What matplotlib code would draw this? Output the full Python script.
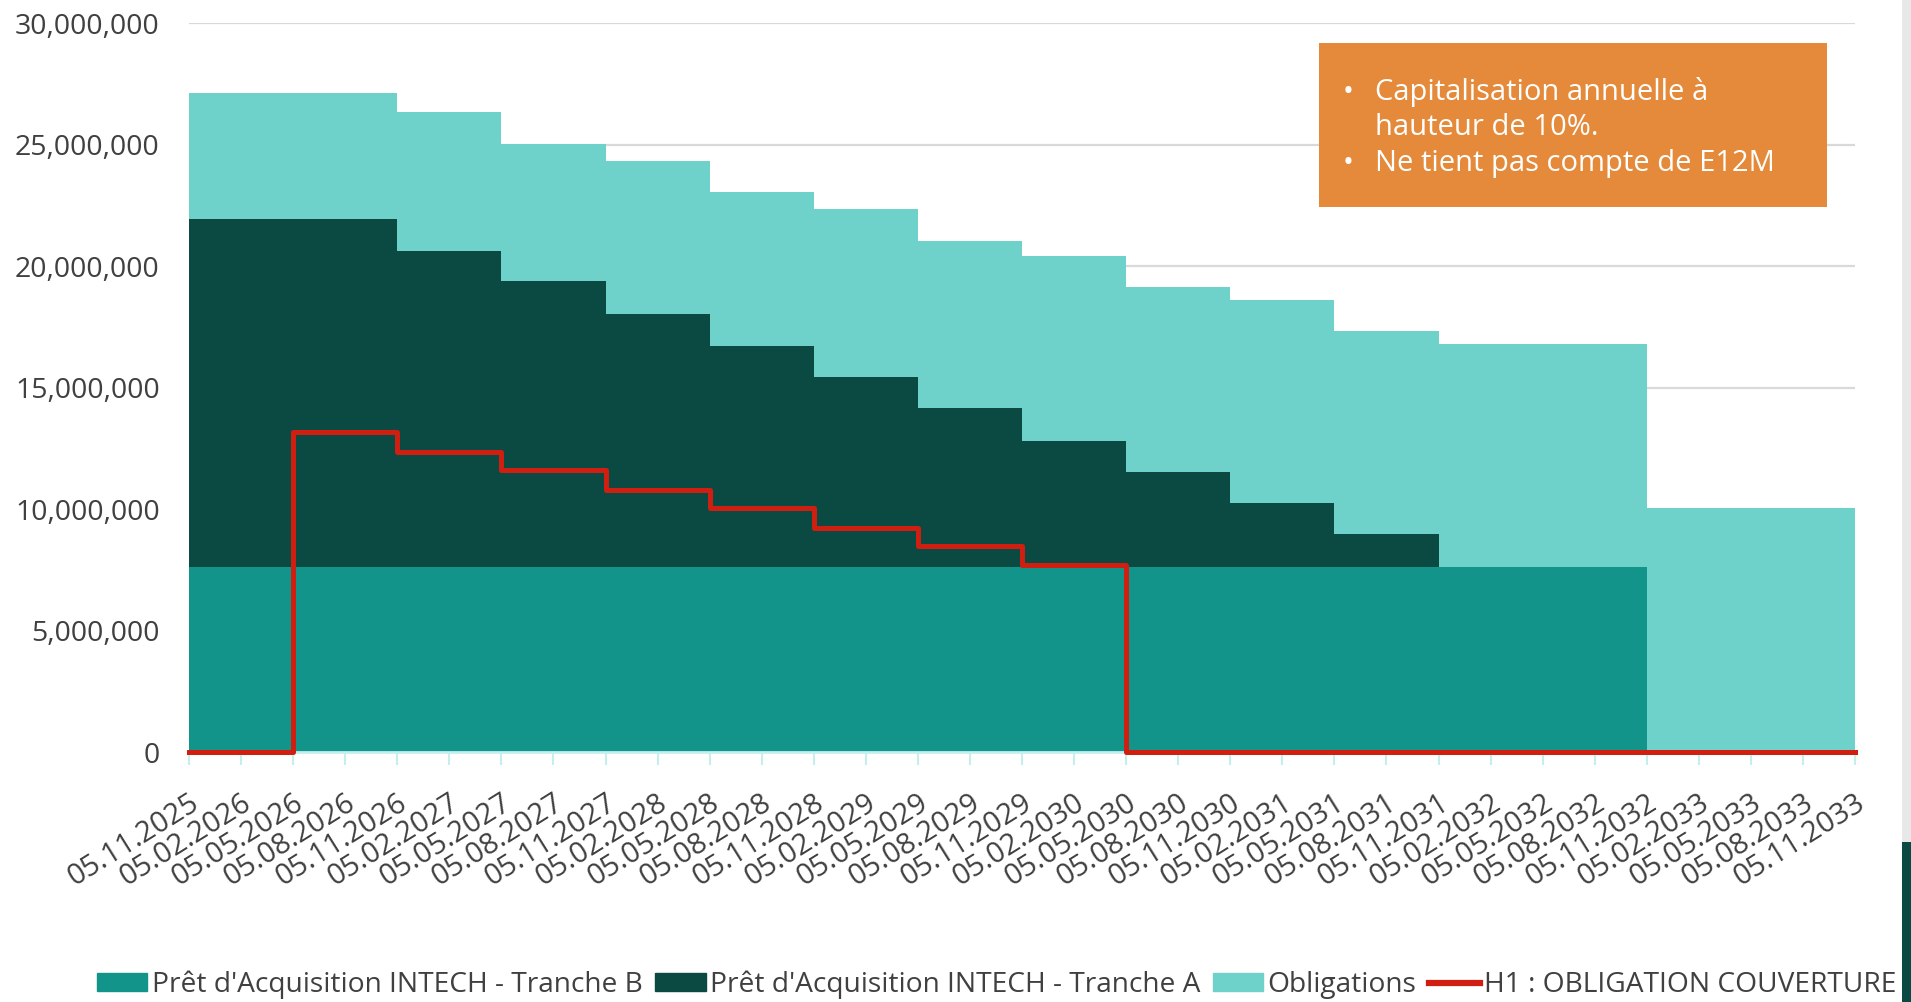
import matplotlib.pyplot as plt
from matplotlib.patches import Patch, Rectangle
from matplotlib.lines import Line2D
from matplotlib.ticker import FuncFormatter

plt.rcParams['font.family'] = ['Open Sans', 'DejaVu Sans']

# quarterly dates on the x axis
dates = ['05.11.2025', '05.02.2026', '05.05.2026', '05.08.2026', '05.11.2026', '05.02.2027',
         '05.05.2027', '05.08.2027', '05.11.2027', '05.02.2028', '05.05.2028', '05.08.2028',
         '05.11.2028', '05.02.2029', '05.05.2029', '05.08.2029', '05.11.2029', '05.02.2030',
         '05.05.2030', '05.08.2030', '05.11.2030', '05.02.2031', '05.05.2031', '05.08.2031',
         '05.11.2031', '05.02.2032', '05.05.2032', '05.08.2032', '05.11.2032', '05.02.2033',
         '05.05.2033', '05.08.2033', '05.11.2033']

# outstanding amounts in millions, one value per date (held until next date)
tranche_b = [7.63, 7.63, 7.63, 7.63, 7.63, 7.63, 7.63, 7.63, 7.63, 7.63, 7.63,
             7.63, 7.63, 7.63, 7.63, 7.63, 7.63, 7.63, 7.63, 7.63, 7.63, 7.63,
             7.63, 7.63, 7.63, 7.63, 7.63, 7.63, 0, 0, 0, 0, 0]
tranche_a = [14.30, 14.30, 14.30, 14.30, 12.99, 12.99, 11.74, 11.74, 10.38, 10.38, 9.08,
             9.08, 7.82, 7.82, 6.52, 6.52, 5.16, 5.16, 3.91, 3.91, 2.61, 2.61,
             1.35, 1.35, 0, 0, 0, 0, 0, 0, 0, 0, 0]
obligations = [5.21, 5.21, 5.21, 5.21, 5.72, 5.72, 5.67, 5.67, 6.33, 6.33, 6.32,
               6.32, 6.88, 6.88, 6.87, 6.87, 7.63, 7.63, 7.58, 7.58, 8.37, 8.37,
               8.33, 8.33, 9.18, 9.18, 9.18, 9.18, 10.03, 10.03, 10.03, 10.03, 10.9]
h1 = [0, 0, 13.15, 13.15, 12.34, 12.34, 11.59, 11.59, 10.79, 10.79, 10.03,
      10.03, 9.23, 9.23, 8.48, 8.48, 7.68, 7.68, 0, 0, 0, 0,
      0, 0, 0, 0, 0, 0, 0, 0, 0, 0, 0]

labels = ["Prêt d'Acquisition INTECH - Tranche B", "Prêt d'Acquisition INTECH - Tranche A",
          "Obligations", "H1 : OBLIGATION COUVERTURE"]
c_b = '#12948A'
c_a = '#0B4A42'
c_obl = '#6ED1CA'
c_red = '#D01E10'
txt = '#404040'

x = list(range(len(dates)))
base1 = tranche_b
base2 = [b + a for b, a in zip(tranche_b, tranche_a)]
top = [s + o for s, o in zip(base2, obligations)]

fig = plt.figure(figsize=(19.11, 10.02), dpi=100)
ax = fig.add_axes([0.0989, 0.2495, 0.8718, 0.7275])

ax.fill_between(x, 0, base1, step='post', color=c_b, lw=0, zorder=2)
ax.fill_between(x, base1, base2, step='post', color=c_a, lw=0, zorder=2)
ax.fill_between(x, base2, top, step='post', color=c_obl, lw=0, zorder=2)
ax.step(x, h1, where='post', color=c_red, lw=3.6, zorder=4, clip_on=False)

ax.set_xlim(0, len(dates) - 1)
ax.set_ylim(0, 30)
ax.set_yticks(range(0, 31, 5))
ax.yaxis.set_major_formatter(FuncFormatter(lambda v, p: f'{v * 1e6:,.0f}'))
ax.yaxis.grid(True, color='#D9D9D9', lw=1.6)
ax.set_axisbelow(True)
for s in ['top', 'right', 'left']:
    ax.spines[s].set_visible(False)
ax.spines['bottom'].set_color('#C5EFEC')
ax.spines['bottom'].set_linewidth(2)

ax.set_xticks(x)
ax.set_xticklabels(dates, rotation=32, ha='right', va='top', rotation_mode='anchor')
ax.tick_params(axis='x', length=9, width=1.5, color='#C5EFEC', labelsize=21, labelcolor=txt, pad=17)
ax.tick_params(axis='y', length=0, labelsize=20.5, labelcolor=txt, pad=21)

# note box
fig.patches.append(Rectangle((0.690, 0.793), 0.266, 0.164, transform=fig.transFigure,
                             facecolor='#E48A3A', edgecolor='none', zorder=5))
notes = [('•', 'Capitalisation annuelle à', 0.908), (None, 'hauteur de 10%.', 0.873),
         ('•', 'Ne tient pas compte de E12M', 0.837)]
for bullet, line, yy in notes:
    if bullet:
        fig.text(0.7025, yy, bullet, color='white', fontsize=21, va='center', zorder=6)
    fig.text(0.7195, yy, line, color='white', fontsize=21, va='center', zorder=6)

# screenshot edge strip
fig.patches.append(Rectangle((0.9955, 0.16), 0.0045, 0.84, transform=fig.transFigure,
                             facecolor='#E8E8E8', edgecolor='none'))
fig.patches.append(Rectangle((0.9955, 0.0), 0.0045, 0.16, transform=fig.transFigure,
                             facecolor=c_a, edgecolor='none'))

handles = [Patch(color=c_b), Patch(color=c_a), Patch(color=c_obl),
           Line2D([0], [0], color=c_red, lw=4.5)]
fig.legend(handles, labels, loc='center', bbox_to_anchor=(0.5215, 0.017), ncol=4,
           frameon=False, fontsize=20.25, labelcolor=txt, handlelength=1.8, handleheight=0.6,
           handletextpad=0.15, columnspacing=0.45, borderpad=0)

fig.savefig('out.png', dpi=100)
